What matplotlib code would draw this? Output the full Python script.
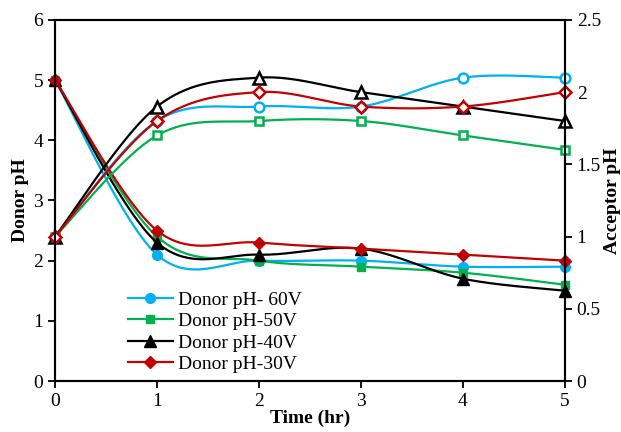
import numpy as np
import matplotlib
matplotlib.use("Agg")
import matplotlib.pyplot as plt

plt.rcParams['font.family'] = ['Liberation Serif', 'DejaVu Serif']
plt.rcParams['mathtext.fontset'] = 'stix'

# time points (hr)
time = [0, 1, 2, 3, 4, 5]

# donor pH (left axis)
donor_60 = [5.0, 2.1, 2.0, 2.0, 1.9, 1.9]
donor_50 = [5.0, 2.4, 2.0, 1.9, 1.8, 1.6]
donor_40 = [5.0, 2.3, 2.1, 2.2, 1.7, 1.5]
donor_30 = [5.0, 2.5, 2.3, 2.2, 2.1, 2.0]

# acceptor pH (right axis)
acc_60 = [1.0, 1.8, 1.9, 1.9, 2.1, 2.1]
acc_50 = [1.0, 1.7, 1.8, 1.8, 1.7, 1.6]
acc_40 = [1.0, 1.9, 2.1, 2.0, 1.9, 1.8]
acc_30 = [1.0, 1.8, 2.0, 1.9, 1.9, 2.0]

labels = ['Donor pH- 60V', 'Donor pH-50V', 'Donor pH-40V', 'Donor pH-30V']
colors = ['#00B0F0', '#00B050', '#000000', '#C00000']
markers = ['o', 's', '^', 'D']
msizes = [7, 6, 8, 6]


# smoothed line like the spreadsheet one (catmull-rom / bezier)
def smooth(x, y, n=40):
    x = np.asarray(x, float)
    y = np.asarray(y, float)
    px = np.concatenate([[x[0]], x, [x[-1]]])
    py = np.concatenate([[y[0]], y, [y[-1]]])
    t = np.linspace(0, 1, n)
    xs, ys = [], []
    for i in range(1, len(px) - 2):
        p0 = np.array([px[i], py[i]])
        p3 = np.array([px[i + 1], py[i + 1]])
        p1 = p0 + (p3 - np.array([px[i - 1], py[i - 1]])) / 6
        p2 = p3 - (np.array([px[i + 2], py[i + 2]]) - p0) / 6
        b = ((1 - t) ** 3)[:, None] * p0 + (3 * (1 - t) ** 2 * t)[:, None] * p1 \
            + (3 * (1 - t) * t ** 2)[:, None] * p2 + (t ** 3)[:, None] * p3
        xs.append(b[:, 0])
        ys.append(b[:, 1])
    return np.concatenate(xs), np.concatenate(ys)


fig = plt.figure(figsize=(6.21, 4.32), dpi=100)
ax = fig.add_axes([0.0886, 0.118, 0.821, 0.836])
ax2 = ax.twinx()

donors = [donor_60, donor_50, donor_40, donor_30]
accs = [acc_60, acc_50, acc_40, acc_30]

for d, c, m, ms, lab in zip(donors, colors, markers, msizes, labels):
    sx, sy = smooth(time, d)
    ax.plot(sx, sy, color=c, lw=1.6)
    ax.plot(time, d, ls='none', marker=m, ms=ms, color=c, mec=c, clip_on=False)
    # legend handle
    ax.plot([], [], color=c, lw=1.6, marker=m, ms=ms, mec=c, label=lab)

for a, c, m, ms in zip(accs, colors, markers, msizes):
    sx, sy = smooth(time, a)
    ax2.plot(sx, sy, color=c, lw=1.6)
    ax2.plot(time, a, ls='none', marker=m, ms=ms, color=c, mfc='white',
             mec=c, mew=1.8, clip_on=False)

ax.set_xlim(0, 5)
ax.set_ylim(0, 6)
ax2.set_ylim(0, 2.5)
ax.set_xticks(range(6))
ax.set_yticks(range(7))
ax2.set_yticks([0, 0.5, 1, 1.5, 2, 2.5])
ax2.set_yticklabels(['0', '0.5', '1', '1.5', '2', '2.5'])

for a in (ax, ax2):
    for s in a.spines.values():
        s.set_linewidth(1.5)
    a.tick_params(direction='out', length=5, width=1.3, labelsize=14)

ax.set_xlabel('Time (hr)', fontsize=14, fontweight='bold', labelpad=0)
ax.set_ylabel('Donor pH', fontsize=14, fontweight='bold', labelpad=3)
ax2.set_ylabel('Acceptor pH', fontsize=14, fontweight='bold', labelpad=2)

ax.legend(loc='lower left', bbox_to_anchor=(0.143, 0.022), frameon=False,
          fontsize=14, handlelength=2.3, handletextpad=0.25, labelspacing=0.2,
          borderaxespad=0, borderpad=0)

fig.savefig('out.png', dpi=100)
